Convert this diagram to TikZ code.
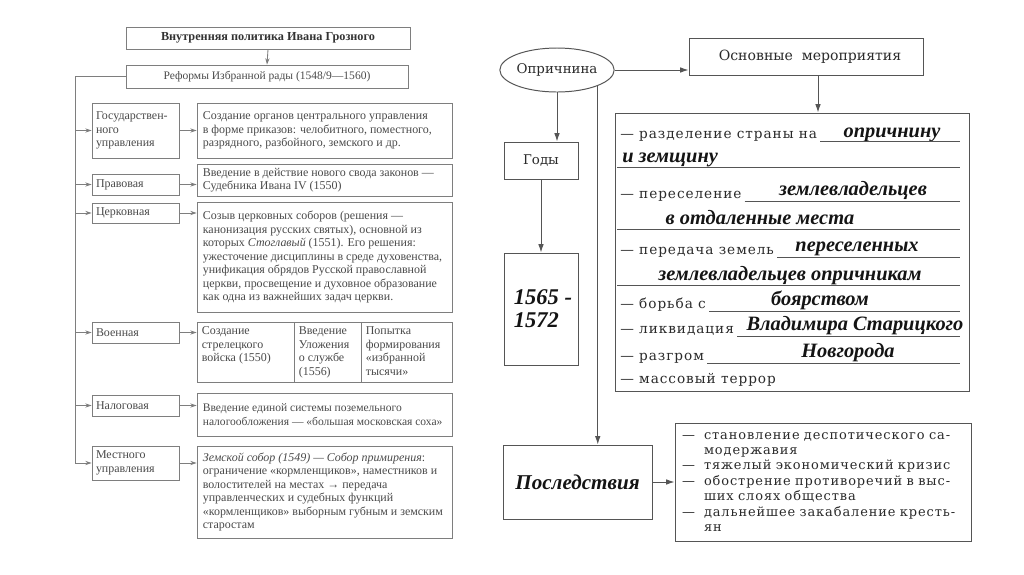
\documentclass[tikz,border=0pt]{standalone}
\usepackage{fontspec}
\setmainfont{Liberation Serif}
\newfontfamily\schoolfont[LetterSpace=7]{DejaVu Serif}
\newfontfamily\schoolplain{DejaVu Serif}
\usetikzlibrary{arrows.meta, positioning, shapes.geometric}
\definecolor{ltext}{HTML}{4A4A4A}
\definecolor{lline}{HTML}{7E7E7E}
\definecolor{rtext}{HTML}{2A2A2A}
\definecolor{rline}{HTML}{555555}
\definecolor{handcol}{HTML}{141414}
\newlength\pxu
\setlength\pxu{0.025cm}
\newcommand\dsh{\makebox[22\pxu][l]{—}}
\newcommand\cind{\hspace*{22\pxu}}

\tikzset{
  lbox/.style={draw=lline, line width=0.6pt, rectangle, inner sep=0pt, text=ltext,
    font=\fontsize{8.5}{9.6}\selectfont},
  catbox/.style={lbox, minimum width=87\pxu, text width=79\pxu, inner xsep=4\pxu, align=left},
  contbox/.style={lbox, minimum width=255\pxu},
  ltext/.style={inner sep=0pt, text=ltext, align=left, font=\fontsize{8.5}{9.6}\selectfont},
  larr/.style={draw=lline, line width=0.6pt, -{Stealth[length=4.5pt,width=3pt]}},
  rbox/.style={draw=rline, line width=0.7pt, rectangle, inner sep=0pt, text=rtext,
    font=\schoolplain\fontsize{9.5}{11}\selectfont},
  rarr/.style={draw=rline, line width=0.7pt, -{Latex[length=6pt,width=4pt]}},
  mtext/.style={inner sep=0pt, text=rtext, font=\schoolfont\fontsize{9.7}{11}\selectfont},
  hand/.style={inner sep=0pt, text=handcol, font=\fontsize{14.5}{16}\selectfont\bfseries\itshape},
  uline/.style={draw=rline, line width=0.6pt},
}

\begin{document}
\begin{tikzpicture}[x=0.025cm, y=-0.025cm]
\useasboundingbox[fill=white] (0,0) rectangle (1024,574);

% ---- left: reforms of the Chosen Council
\node[lbox, minimum width=284\pxu, minimum height=22\pxu, text=black!80,
  font=\fontsize{8.7}{10}\selectfont\bfseries] (title) at (268,38) {Внутренняя политика Ивана Грозного};
\node[lbox, minimum width=282\pxu, minimum height=23\pxu,
  font=\fontsize{8.2}{10}\selectfont] (reforms) at (267,76.5) {Реформы Избранной рады (1548/9—1560)};
\draw[larr] (title.south) -- (reforms.north);

% categories
\node[catbox, minimum height=55\pxu] (gos) at (135.5,130.5) {Государствен-\\ного\\управления};
\node[catbox, minimum height=21\pxu] (prav) at (135.5,184.5) {Правовая};
\node[catbox, minimum height=20\pxu] (cerk) at (135.5,213) {Церковная};
\node[catbox, minimum height=21\pxu] (voen) at (135.5,332.5) {Военная};
\node[catbox, minimum height=21\pxu] (nal) at (135.5,405.5) {Налоговая};
\node[catbox, minimum height=34\pxu] (mest) at (135.5,463) {Местного\\управления};

% content boxes
\node[contbox, minimum height=55\pxu] (gosC) at (324.5,130.5) {};
\node[contbox, minimum height=32\pxu] (pravC) at (324.5,180) {};
\node[contbox, minimum height=110\pxu] (cerkC) at (324.5,257) {};
\node[lbox, minimum width=97\pxu, minimum height=60\pxu] (voenA) at (245.5,352) {};
\node[lbox, minimum width=67\pxu, minimum height=60\pxu] (voenB) at (327.5,352) {};
\node[lbox, minimum width=91\pxu, minimum height=60\pxu] (voenC) at (406.5,352) {};
\node[contbox, minimum height=43\pxu] (nalC) at (324.5,414.5) {};
\node[contbox, minimum height=92\pxu] (mestC) at (324.5,492) {};

% content texts
\node[ltext, anchor=west] (gosT) at ([xshift=6\pxu]gosC.west)
  {Создание органов центрального управления\\ в форме приказов: челобитного, поместного,\\ разрядного, разбойного, земского и др.};
\node[ltext, anchor=west] (pravT) at ([xshift=6\pxu]pravC.west)
  {Введение в действие нового свода законов —\\ Судебника Ивана IV (1550)};
\node[ltext, anchor=west] (cerkT) at ([xshift=6\pxu]cerkC.west)
  {Созыв церковных соборов (решения —\\ канонизация русских святых), основной из\\
   которых \textit{Стоглавый} (1551). Его решения:\\ ужесточение дисциплины в среде духовенства,\\
   унификация обрядов Русской православной\\ церкви, просвещение и духовное образование\\
   как одна из важнейших задач церкви.};
\node[ltext, anchor=north west] (voenTA) at ([shift={(5,5)}]voenA.north west)
  {Создание\\ стрелецкого\\ войска (1550)};
\node[ltext, anchor=north west] (voenTB) at ([shift={(5,5)}]voenB.north west)
  {Введение\\ Уложения\\ о службе\\ (1556)};
\node[ltext, anchor=north west] (voenTC) at ([shift={(5,5)}]voenC.north west)
  {Попытка\\ формирования\\ «избранной\\ тысячи»};
\node[ltext, anchor=west, font=\fontsize{8.2}{9.6}\selectfont] (nalT) at ([xshift=6\pxu]nalC.west)
  {Введение единой системы поземельного\\ налогообложения — «большая московская соха»};
\node[ltext, anchor=west] (mestT) at ([xshift=6\pxu]mestC.west)
  {\textit{Земской собор (1549) — Собор примирения}:\\ ограничение «кормленщиков», наместников и\\
   волостителей на местах → передача\\ управленческих и судебных функций\\
   «кормленщиков» выборным губным и земским\\ старостам};

% trunk and branches
\coordinate (trunk) at (75,76);
\draw[larr] (reforms.west) -- (reforms.west -| trunk) |- (mest.west);
\foreach \c in {gos,prav,cerk,voen,nal}
  \draw[larr] (trunk |- \c.west) -- (\c.west);
\foreach \c/\d in {gos/gosC, prav/pravC, cerk/cerkC, voen/voenA, nal/nalC, mest/mestC}
  \draw[larr] (\c.east) -- (\c.east -| \d.west);

% ---- right: oprichnina
\node[draw=rline, line width=0.7pt, ellipse, minimum width=112\pxu, minimum height=44\pxu,
  inner sep=0pt, text=rtext, font=\schoolplain\fontsize{9.5}{11}\selectfont] (opr) at (557,70) {Опричнина};
\node[rbox, minimum width=234\pxu, minimum height=37\pxu, font=\schoolplain\fontsize{10}{12}\selectfont]
  (osn) at (806,56.5) {\hspace*{8\pxu}Основные\ \ мероприятия};
\node[rbox, minimum width=354\pxu, minimum height=278\pxu] (meas) at (792,252) {};
\node[rbox, minimum width=74\pxu, minimum height=37\pxu] (gody) at (541,160.5) {Годы};
\node[rbox, minimum width=74\pxu, minimum height=112\pxu, align=left, text=handcol,
  font=\fontsize{16}{16.5}\selectfont\bfseries\itshape] (yrs) at (541,309) {\hspace*{4\pxu}1565 -\\\hspace*{4\pxu}1572};
\node[rbox, minimum width=149\pxu, minimum height=74\pxu, text=handcol,
  font=\fontsize{15}{17}\selectfont\bfseries\itshape] (posl) at (577.5,482) {Последствия};
\node[rbox, minimum width=296\pxu, minimum height=118\pxu, text width=282\pxu, inner xsep=7\pxu,
  align=left, font=\schoolfont\fontsize{9.2}{11}\selectfont] (cons) at (823,482)
  {\dsh становление деспотического са-\\ \cind модержавия\\ \dsh тяжелый экономический кризис\\
   \dsh обострение противоречий в выс-\\ \cind ших слоях общества\\
   \dsh дальнейшее закабаление кресть-\\ \cind ян};

\draw[rarr] (opr.east) -- (opr.east -| osn.west);
\draw[rarr] ([xshift=12\pxu]osn.south) -- ([xshift=12\pxu]osn.south |- meas.north);
\draw[rarr] (opr.south) -- (opr.south |- gody.north);
\draw[rarr] (gody.south) -- (yrs.north);
\draw[rarr] (opr.south east) -- (opr.south east |- posl.north);
\draw[rarr] (posl.east) -- (posl.east -| cons.west);

% measures and filled-in answers
\node[mtext, anchor=base west] (m1) at (620,138) {— разделение страны на};
\node[hand, anchor=base] (a1) at (892,137) {опричнину};
\node[hand, anchor=base west] (a2) at (622,162) {и земщину};
\node[mtext, anchor=base west] (m3) at (620,198) {— переселение};
\node[hand, anchor=base] (a3) at (853,195) {землевладельцев};
\node[hand, anchor=base] (a4) at (760,224) {в отдаленные места};
\node[mtext, anchor=base west] (m5) at (620,254) {— передача земель};
\node[hand, anchor=base] (a5) at (857,251) {переселенных};
\node[hand, anchor=base] (a6) at (790,280) {землевладельцев опричникам};
\node[mtext, anchor=base west] (m7) at (620,308) {— борьба с};
\node[hand, anchor=base] (a7) at (820,305) {боярством};
\node[mtext, anchor=base west] (m8) at (620,333) {— ликвидация};
\node[hand, anchor=base] (a8) at (855,330) {Владимира Старицкого};
\node[mtext, anchor=base west] (m9) at (620,360) {— разгром};
\node[hand, anchor=base] (a9) at (848,357) {Новгорода};
\node[mtext, anchor=base west] (m10) at (620,383) {— массовый террор};

% blank lines
\coordinate (ubeg) at (617,0);
\coordinate (uend) at (960,0);
\foreach \m in {m1,m3,m5,m7,m8,m9} {
  \path ([shift={(3,3)}]\m.base east) coordinate (u);
  \draw[uline] (u) -- (u -| uend);
}
\foreach \a in {a2,a4,a6} {
  \path ([yshift=-5\pxu]\a.base) coordinate (u);
  \draw[uline] (u -| ubeg) -- (u -| uend);
}

\end{tikzpicture}
\end{document}
